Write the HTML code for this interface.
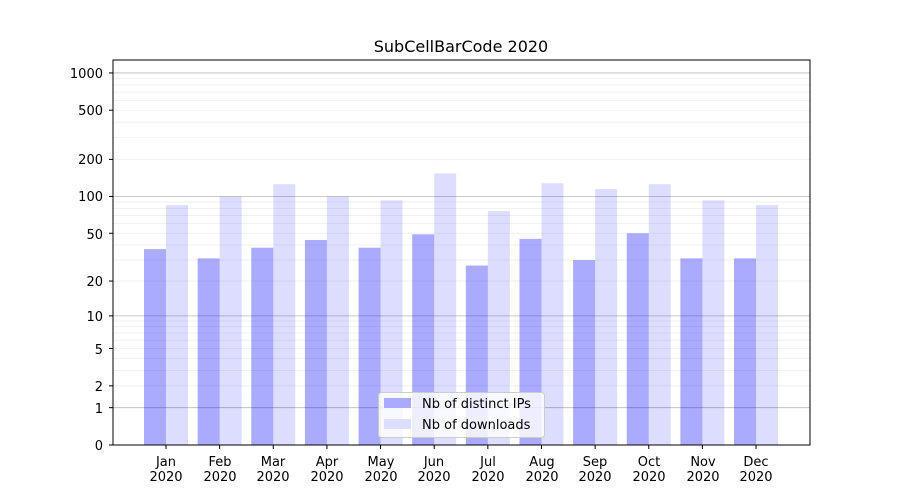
<!DOCTYPE html>
<html><head><style>body{margin:0;background:#fff}svg{display:block;font-family:"DejaVu Sans","Liberation Sans",sans-serif}</style></head>
<body>
<svg id="s" width="900" height="500" xmlns="http://www.w3.org/2000/svg">
<rect width="900" height="500" fill="#fff"/>
<g id="grid"></g>
<g id="bars"></g>
<rect x="113" y="60" width="697" height="385" fill="none" stroke="#000" stroke-width="1"/>
<g id="ticks"></g>
<text x="461" y="52" font-size="16" text-anchor="middle">SubCellBarCode 2020</text>
<g font-size="13" text-anchor="end">
<text x="103" y="450">0</text><text x="103" y="413">1</text><text x="103" y="391">2</text><text x="103" y="354">5</text><text x="103" y="321">10</text><text x="103" y="286">20</text><text x="103" y="239">50</text><text x="103" y="201">100</text><text x="103" y="164">200</text><text x="103" y="115">500</text><text x="103" y="78">1000</text>
</g>
<g font-size="13" text-anchor="middle">
<text x="166" y="466">Jan</text><text x="166" y="481">2020</text>
<text x="220" y="466">Feb</text><text x="220" y="481">2020</text>
<text x="273" y="466">Mar</text><text x="273" y="481">2020</text>
<text x="327" y="466">Apr</text><text x="327" y="481">2020</text>
<text x="381" y="466">May</text><text x="381" y="481">2020</text>
<text x="434" y="466">Jun</text><text x="434" y="481">2020</text>
<text x="488" y="466">Jul</text><text x="488" y="481">2020</text>
<text x="542" y="466">Aug</text><text x="542" y="481">2020</text>
<text x="595" y="466">Sep</text><text x="595" y="481">2020</text>
<text x="649" y="466">Oct</text><text x="649" y="481">2020</text>
<text x="703" y="466">Nov</text><text x="703" y="481">2020</text>
<text x="756" y="466">Dec</text><text x="756" y="481">2020</text>
</g>
<rect x="378.5" y="392.5" width="166" height="45" rx="3" fill="#fff" fill-opacity="0.8" stroke="#ccc"/>
<rect x="384" y="398" width="27" height="10" fill="#aaaaff"/>
<rect x="384" y="419" width="27" height="10" fill="#ddddff"/>
<g font-size="13"><text x="422" y="408">Nb of distinct IPs</text><text x="422" y="429">Nb of downloads</text></g>
</svg>
<script>
var ns="http://www.w3.org/2000/svg";
function Y(v){return 445-124*Math.log10(v+1);}
function el(p,t,a){var e=document.createElementNS(ns,t);for(var k in a)e.setAttribute(k,a[k]);document.getElementById(p).appendChild(e);}
var maj=[1,10,100,1000];
for(var d=1;d<=100;d*=10)for(var m=2;m<=9;m++){var y=Y(m*d);el("grid","line",{x1:113,x2:810,y1:y,y2:y,stroke:"#eee","stroke-width":0.8});}
maj.forEach(function(v){var y=Y(v);el("grid","line",{x1:113,x2:810,y1:y,y2:y,stroke:"#b8b8b8","stroke-width":0.8});});
[0,1,2,5,10,20,50,100,200,500,1000].forEach(function(v){var y=Y(v);el("ticks","line",{x1:109,x2:113,y1:y,y2:y,stroke:"#000"});});
var ip=[37,31,38,44,38,49,27,45,30,50,31,31],dl=[85,100,126,100,93,154,76,128,115,126,93,85];
for(var i=0;i<12;i++){var c=166+i*53.64;
el("bars","rect",{x:c-22,y:Y(ip[i]),width:22,height:445-Y(ip[i]),fill:"rgb(0,0,255)","fill-opacity":0.333});
el("bars","rect",{x:c,y:Y(dl[i]),width:22,height:445-Y(dl[i]),fill:"rgb(0,0,255)","fill-opacity":0.135});
el("ticks","line",{x1:c,x2:c,y1:445,y2:449,stroke:"#000"});}
</script>
</body></html>
